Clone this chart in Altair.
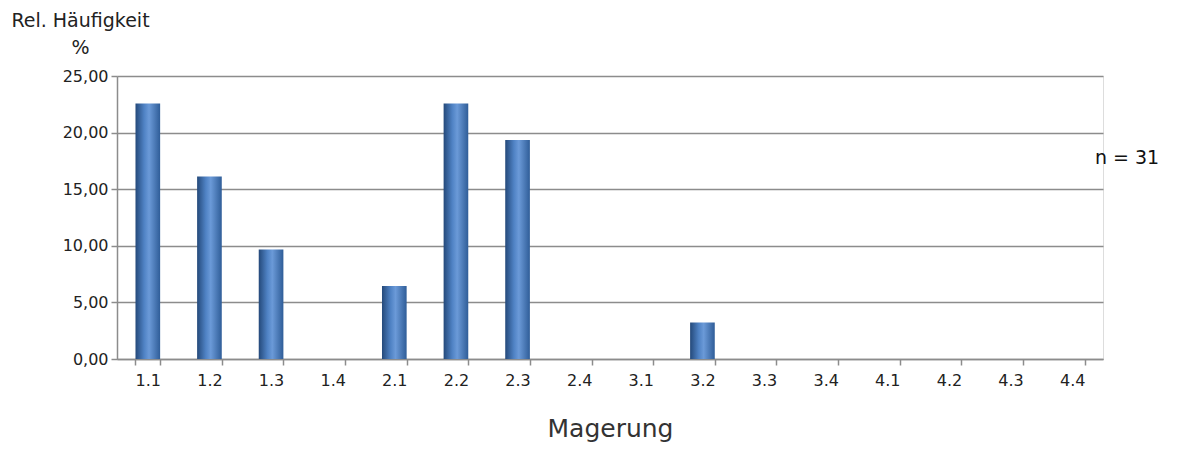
import altair as alt
import pandas as pd

categories = ["1.1", "1.2", "1.3", "1.4", "2.1", "2.2", "2.3", "2.4",
              "3.1", "3.2", "3.3", "3.4", "4.1", "4.2", "4.3", "4.4"]
values = [22.58, 16.13, 9.68, 0.0, 6.45, 22.58, 19.35, 0.0,
          0.0, 3.23, 0.0, 0.0, 0.0, 0.0, 0.0, 0.0]

df = pd.DataFrame({"Magerung": categories, "Wert": values})

FONT = "DejaVu Sans"

grad = alt.Gradient(
    gradient="linear", x1=0, x2=1, y1=0, y2=0,
    stops=[
        alt.GradientStop(color="#24497a", offset=0),
        alt.GradientStop(color="#4f82c4", offset=0.35),
        alt.GradientStop(color="#6b9ad8", offset=0.55),
        alt.GradientStop(color="#2f5d98", offset=1),
    ],
)

bars = alt.Chart(df).mark_bar(color=grad).encode(
    x=alt.X("Magerung:N", sort=categories,
            scale=alt.Scale(paddingInner=0.6, paddingOuter=0.3),
            axis=alt.Axis(title="Magerung", labelAngle=0, tickBand="extent",
                          grid=False, domainColor="#8c8c8c", domainWidth=1.5,
                          tickColor="#8c8c8c", tickWidth=1.5, tickSize=6,
                          labelPadding=7, labelFontSize=16, labelColor="#222222",
                          labelFont=FONT, titleFont=FONT, titleFontSize=25,
                          titleFontWeight="normal", titleColor="#333333",
                          titlePadding=28)),
    y=alt.Y("Wert:Q",
            scale=alt.Scale(domain=[0, 25], nice=False),
            axis=alt.Axis(values=[0, 5, 10, 15, 20, 25],
                          labelExpr="replace(format(datum.value, '.2f'), '.', ',')",
                          title=["Rel. Häufigkeit", "%"], titleAngle=0,
                          titleX=-37, titleY=-65, titleAlign="center",
                          titleBaseline="top", titleLineHeight=27,
                          titleFont=FONT, titleFontSize=19,
                          titleFontWeight="normal", titleColor="#222222",
                          labelFont=FONT, labelFontSize=16, labelColor="#222222",
                          labelPadding=3, tickSize=6, tickColor="#8c8c8c",
                          tickWidth=1.5, domainColor="#8c8c8c", domainWidth=1.5,
                          gridColor="#8c8c8c", gridWidth=1.5, gridOpacity=1)),
)

ann = alt.Chart(pd.DataFrame({"t": ["n = 31"]})).mark_text(
    font=FONT, fontSize=19, color="#111111", align="center", baseline="middle"
).encode(x=alt.value(1010), y=alt.value(82), text="t:N")

chart = alt.layer(bars, ann).properties(
    width=986, height=283,
    autosize=alt.AutoSizeParams(type="none"),
    padding={"left": 109, "top": 68, "right": 73, "bottom": 88},
).configure_view(stroke=None).configure(background="white")

chart.save("out.html", embed_options={"renderer": "svg", "actions": False})
